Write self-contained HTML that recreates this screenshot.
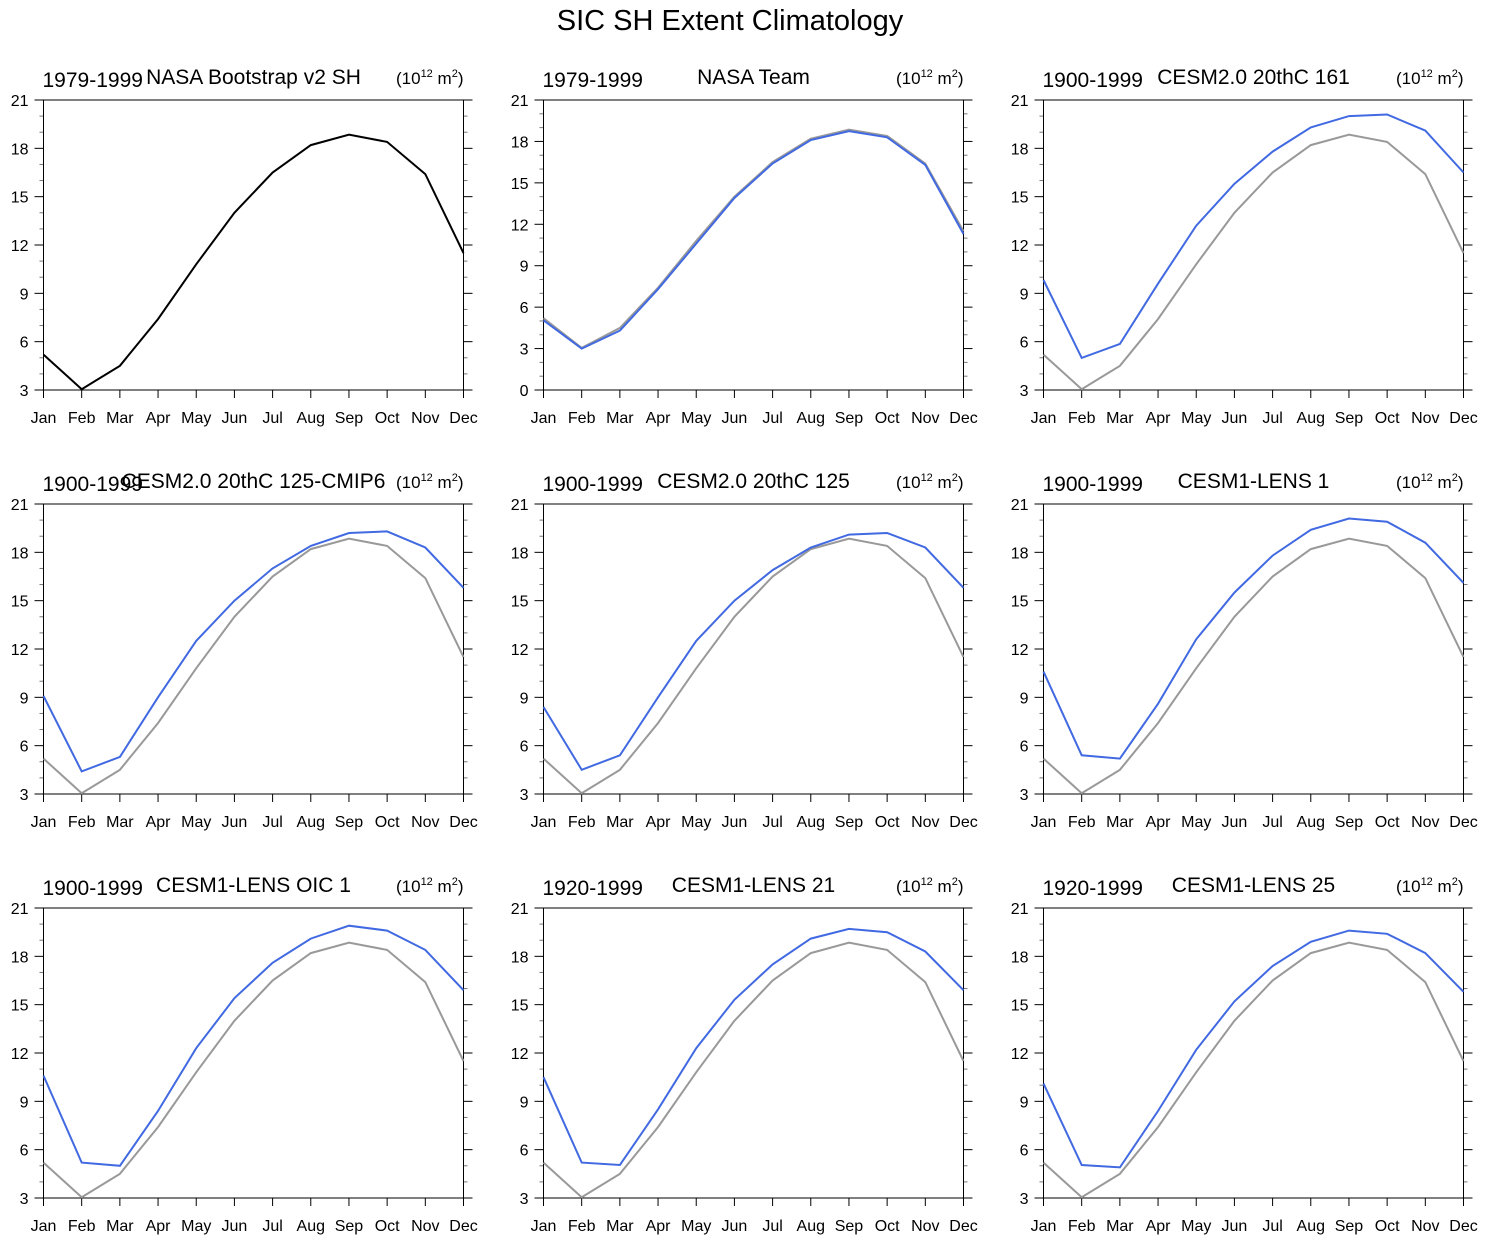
<!DOCTYPE html>
<html><head><meta charset="utf-8"><style>
body{margin:0;background:#fff;width:1485px;height:1242px;overflow:hidden}
svg{font-family:"Liberation Sans",Arial,sans-serif}
</style></head><body>
<svg id="chart" width="1485" height="1242" xmlns="http://www.w3.org/2000/svg">
<text x="730" y="30" text-anchor="middle" font-size="29">SIC SH Extent Climatology</text>
</svg>
<script>
const months = ["Jan","Feb","Mar","Apr","May","Jun","Jul","Aug","Sep","Oct","Nov","Dec"];
const obsBootstrap = [5.2,3.05,4.5,7.4,10.8,14.0,16.5,18.2,18.85,18.4,16.4,11.5];
const nasaTeam = [5.05,3.0,4.3,7.3,10.6,13.9,16.4,18.1,18.75,18.3,16.3,11.3];
const cesm2_161 = [9.83,4.99,5.86,9.6,13.2,15.8,17.8,19.3,20.0,20.1,19.1,16.5];
const cesm2_125cmip6 = [9.08,4.4,5.3,9.0,12.5,15.0,17.0,18.4,19.2,19.3,18.3,15.8];
const cesm2_125 = [8.4,4.5,5.4,9.0,12.5,15.0,16.9,18.3,19.1,19.2,18.3,15.8];
const lens1 = [10.6,5.4,5.2,8.6,12.6,15.5,17.8,19.4,20.1,19.9,18.6,16.1];
const lensOic1 = [10.6,5.2,5.0,8.4,12.3,15.4,17.6,19.1,19.9,19.6,18.4,15.9];
const lens21 = [10.5,5.2,5.05,8.5,12.3,15.3,17.5,19.1,19.7,19.5,18.3,15.9];
const lens25 = [10.1,5.05,4.9,8.4,12.2,15.2,17.4,18.9,19.6,19.4,18.2,15.8];
const panelPeriods = ["1979-1999","1979-1999","1900-1999","1900-1999","1900-1999","1900-1999","1900-1999","1920-1999","1920-1999"];
const panelNames = ["NASA Bootstrap v2 SH","NASA Team","CESM2.0 20thC 161","CESM2.0 20thC 125-CMIP6","CESM2.0 20thC 125","CESM1-LENS 1","CESM1-LENS OIC 1","CESM1-LENS 21","CESM1-LENS 25"];
const panelSeries = [null,nasaTeam,cesm2_161,cesm2_125cmip6,cesm2_125,lens1,lensOic1,lens21,lens25];
const yMins = [3,0,3,3,3,3,3,3,3];
const yMax = 21;

const svg = document.getElementById('chart');
const NS = "http://www.w3.org/2000/svg";
function mk(tag, attrs, parent){const e=document.createElementNS(NS,tag);for(const k in attrs)e.setAttribute(k,attrs[k]);(parent||svg).appendChild(e);return e;}

for(let p=0;p<9;p++){
  const col=p%3,row=Math.floor(p/3);
  const x0=43.5+col*500,x1=463.5+col*500,y0=100+row*404,y1=390+row*404;
  const ymin=yMins[p];
  const sx=i=>x0+(x1-x0)*i/11;
  const sy=v=>y1-(y1-y0)*(v-ymin)/(yMax-ymin);
  const g=mk('g',{});
  
  
  const t1=mk('text',{x:x0-1,y:y0-13,'font-size':21},g);t1.textContent=panelPeriods[p];
  
  
  const t2=mk('text',{x:(x0+x1)/2,y:y0-16,'font-size':21,'text-anchor':'middle'},g);t2.textContent=panelNames[p];
  
  
  const t3=mk('text',{x:x1,y:y0-16,'font-size':17,'text-anchor':'end'},g);
  t3.innerHTML='(10<tspan font-size="11" dy="-7">12</tspan><tspan dy="7"> m</tspan><tspan font-size="11" dy="-7">2</tspan><tspan dy="7">)</tspan>';
  
  
  for(let v=ymin;v<=yMax;v++){
    if((v-ymin)%3===0)continue;
    mk('line',{x1:x0-4,x2:x0,y1:sy(v),y2:sy(v),stroke:'#777','stroke-width':1},g);
    mk('line',{x1:x1,x2:x1+4,y1:sy(v),y2:sy(v),stroke:'#777','stroke-width':1},g);
  }
  for(let v=ymin;v<=yMax;v+=3){
    mk('line',{x1:x0-9,x2:x0,y1:sy(v),y2:sy(v),stroke:'#000','stroke-width':1},g);
    mk('line',{x1:x1,x2:x1+9,y1:sy(v),y2:sy(v),stroke:'#000','stroke-width':1},g);
    const lt=mk('text',{x:x0-15,y:sy(v)+6,'font-size':16,'text-anchor':'end'},g);lt.textContent=v;
    
    
  }
  months.forEach((m,i)=>{
    mk('line',{x1:sx(i),x2:sx(i),y1:y1,y2:y1+8,stroke:'#000','stroke-width':1},g);
    const lt=mk('text',{x:sx(i),y:y1+33,'font-size':16,'text-anchor':'middle'},g);lt.textContent=m;
    
    
  });
  const fr=mk('rect',{x:x0,y:y0,width:x1-x0,height:y1-y0,fill:'none',stroke:'#000','stroke-width':1},g);
  
  
  const pts=arr=>arr.map((v,i)=>sx(i).toFixed(1)+','+sy(v).toFixed(1)).join(' ');
  const ob=mk('polyline',{points:pts(obsBootstrap),fill:'none',stroke:p===0?'#000':'#999','stroke-width':2},g);
  
  
  if(panelSeries[p]){
    const ml=mk('polyline',{points:pts(panelSeries[p]),fill:'none',stroke:'#4169e1','stroke-width':2},g);
    
    
  }
}
</script>
</body></html>
